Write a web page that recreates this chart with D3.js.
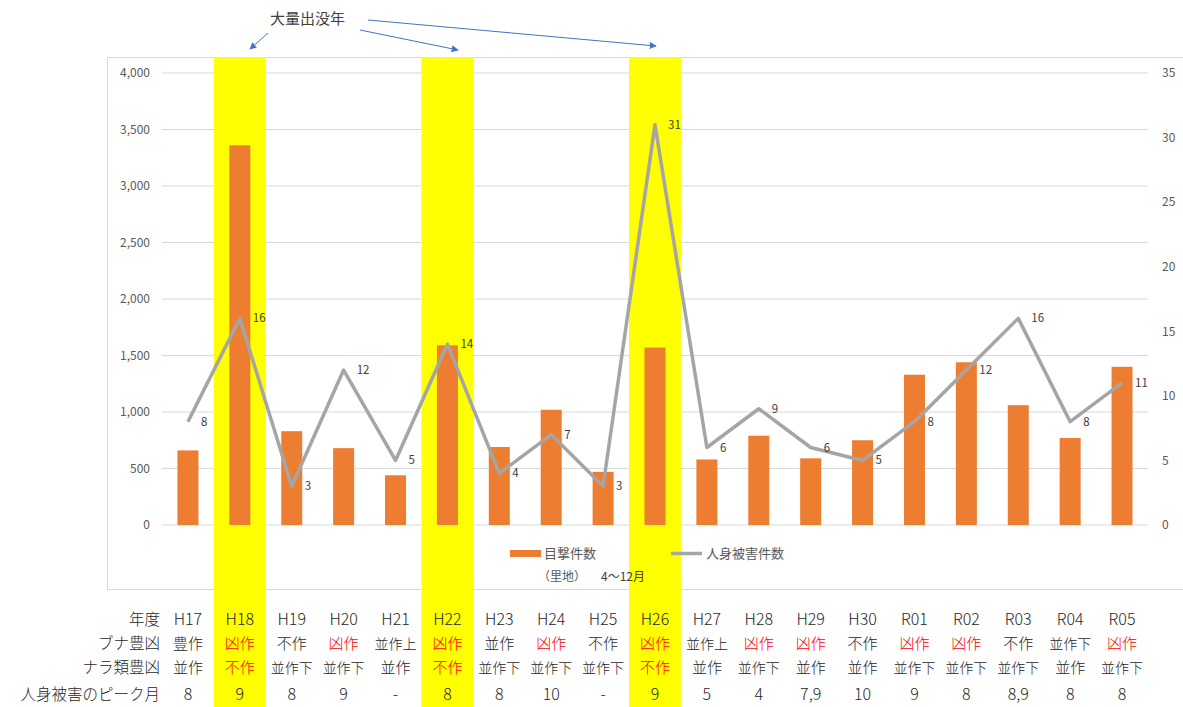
<!DOCTYPE html>
<html>
<head>
<meta charset="utf-8">
<script src="https://cdn.jsdelivr.net/npm/d3@7"></script>
<style>
  body { margin: 0; background: #fff; }
  svg text { font-family: "Noto Sans CJK JP", "Noto Sans", sans-serif; }
</style>
</head>
<body>
<svg id="chart" width="1183" height="707"></svg>
<script>
const years = ["H17","H18","H19","H20","H21","H22","H23","H24","H25","H26","H27","H28","H29","H30","R01","R02","R03","R04","R05"];
const sightings = [660, 3360, 830, 680, 440, 1590, 690, 1020, 470, 1570, 580, 790, 590, 750, 1330, 1440, 1060, 770, 1400];
const injuries = [8, 16, 3, 12, 5, 14, 4, 7, 3, 31, 6, 9, 6, 5, 8, 12, 16, 8, 11];
const bunaCrop = ["豊作","凶作","不作","凶作","並作上","凶作","並作","凶作","不作","凶作","並作上","凶作","凶作","不作","凶作","凶作","不作","並作下","凶作"];
const naraCrop = ["並作","不作","並作下","並作下","並作","不作","並作下","並作下","並作下","不作","並作","並作下","並作","並作","並作下","並作下","並作下","並作","並作下"];
const peakMonth = ["8","9","8","9","-","8","8","10","-","9","5","4","7,9","10","9","8","8,9","8","8"];
const highlightYears = ["H18","H22","H26"];
const leftTicks = [0, 500, 1000, 1500, 2000, 2500, 3000, 3500, 4000];
const rightTicks = [0, 5, 10, 15, 20, 25, 30, 35];

const svg = d3.select("#chart");
const plot = { left: 162, right: 1148, top: 73, bottom: 525 };

let x = d3.scaleBand()
    .domain(years)
    .range([plot.left, plot.right]);

let yL = d3.scaleLinear().domain([0, 4000]).range([plot.bottom, plot.top]);
let yR = d3.scaleLinear().domain([0, 35]).range([plot.bottom, plot.top]);

// plot area border
svg.append("rect")
    .attr("x", 107.5).attr("y", 57.5)
    .attr("width", 1090).attr("height", 532)
    .attr("fill", "none")
    .attr("stroke", "#d9d9d9");

// gridlines
svg.append("g")
    .selectAll("line")
    .data(leftTicks)
    .enter()
    .append("line")
    .attr("x1", plot.left).attr("x2", plot.right)
    .attr("y1", d => yL(d)).attr("y2", d => yL(d))
    .attr("stroke", "#d9d9d9");

// yellow highlight columns
svg.append("g")
    .selectAll("rect")
    .data(highlightYears)
    .enter()
    .append("rect")
    .attr("x", d => x(d))
    .attr("y", 57)
    .attr("width", x.bandwidth())
    .attr("height", 707 - 57)
    .attr("fill", "#ffff00");

// left axis
svg.append("g")
    .attr("transform", "translate(150,0)")
    .call(d3.axisLeft(yL).tickValues(leftTicks).tickSize(0).tickFormat(d3.format(",")))
    .call(g => g.select(".domain").remove())
    .selectAll("text")
    .attr("x", 0)
    .attr("fill", "#595959")
    .attr("font-size", "12px");

// right axis
svg.append("g")
    .attr("transform", "translate(1162,0)")
    .call(d3.axisRight(yR).tickValues(rightTicks).tickSize(0))
    .call(g => g.select(".domain").remove())
    .selectAll("text")
    .attr("x", 0)
    .attr("fill", "#595959")
    .attr("font-size", "12px");

// bars
const barW = 21;
svg.append("g")
    .selectAll("rect")
    .data(years)
    .enter()
    .append("rect")
    .attr("x", d => x(d) + x.bandwidth() / 2 - barW / 2)
    .attr("y", (d, i) => yL(sightings[i]))
    .attr("width", barW)
    .attr("height", (d, i) => yL(0) - yL(sightings[i]))
    .attr("fill", "#ed7d31");

// line
const line = d3.line()
    .x((d, i) => x(years[i]) + x.bandwidth() / 2)
    .y(d => yR(d));

svg.append("path")
    .datum(injuries)
    .attr("d", line)
    .attr("fill", "none")
    .attr("stroke", "#a5a5a5")
    .attr("stroke-width", 3.5)
    .attr("stroke-linejoin", "round");

// line labels
svg.append("g")
    .selectAll("text")
    .data(injuries)
    .enter()
    .append("text")
    .text(d => d)
    .attr("x", (d, i) => x(years[i]) + x.bandwidth() / 2 + 13)
    .attr("y", d => yR(d) + 4)
    .attr("font-size", "11.5px")
    .attr("fill", "#404040");

// legend
svg.append("rect")
    .attr("x", 510).attr("y", 550)
    .attr("width", 31).attr("height", 7)
    .attr("fill", "#ed7d31");
svg.append("text")
    .attr("x", 544).attr("y", 558)
    .attr("font-size", "13px").attr("fill", "#595959")
    .text("目撃件数");
svg.append("line")
    .attr("x1", 671).attr("x2", 702)
    .attr("y1", 553.5).attr("y2", 553.5)
    .attr("stroke", "#a5a5a5").attr("stroke-width", 3.5);
svg.append("text")
    .attr("x", 706).attr("y", 558)
    .attr("font-size", "13px").attr("fill", "#595959")
    .text("人身被害件数");
svg.append("text")
    .attr("x", 538).attr("y", 581)
    .attr("font-size", "12px").attr("fill", "#595959")
    .text("（里地）");
svg.append("text")
    .attr("x", 601).attr("y", 581)
    .attr("font-size", "12px").attr("fill", "#404040")
    .text("4～12月");

// annotation
const defs = svg.append("defs");
defs.append("marker")
    .attr("id", "arrow")
    .attr("viewBox", "0 0 10 10")
    .attr("refX", 9).attr("refY", 5)
    .attr("markerWidth", 7).attr("markerHeight", 7)
    .attr("orient", "auto")
    .append("path")
    .attr("d", "M0,0 L10,5 L0,10 z")
    .attr("fill", "#4472c4");

svg.append("text")
    .attr("x", 270).attr("y", 24)
    .attr("font-size", "15px").attr("fill", "#404040")
    .text("大量出没年");

const arrows = [
    [268, 33, 250, 49],
    [360, 30, 458, 50],
    [368, 20, 656, 46]
];
svg.append("g")
    .selectAll("line")
    .data(arrows)
    .enter()
    .append("line")
    .attr("x1", d => d[0]).attr("y1", d => d[1])
    .attr("x2", d => d[2]).attr("y2", d => d[3])
    .attr("stroke", "#4472c4")
    .attr("stroke-width", 1)
    .attr("marker-end", "url(#arrow)");

// table below
const rows = [
    { label: "年度", vals: years, y: 625, size: 16 },
    { label: "ブナ豊凶", vals: bunaCrop, y: 649, size: 15 },
    { label: "ナラ類豊凶", vals: naraCrop, y: 673, size: 15 },
    { label: "人身被害のピーク月", vals: peakMonth, y: 700, size: 16 }
];

rows.forEach((r, ri) => {
    svg.append("text")
        .attr("x", 160)
        .attr("y", r.y)
        .attr("text-anchor", "end")
        .attr("font-size", "15.5px")
        .attr("font-weight", 300)
        .attr("fill", "#262626")
        .text(r.label);

    svg.append("g")
        .selectAll("text")
        .data(r.vals)
        .enter()
        .append("text")
        .attr("x", (d, i) => x(years[i]) + x.bandwidth() / 2)
        .attr("y", r.y)
        .attr("text-anchor", "middle")
        .attr("font-size", d => (d.length >= 3 && ri > 0 && ri < 3 ? 14 : r.size) + "px")
        .attr("font-weight", 300)
        .attr("fill", (d, i) => {
            if (d === "凶作") return "#ff0000";
            if (ri === 2 && highlightYears.includes(years[i])) return "#ff0000";
            return "#262626";
        })
        .text(d => d);
});
</script>
</body>
</html>
